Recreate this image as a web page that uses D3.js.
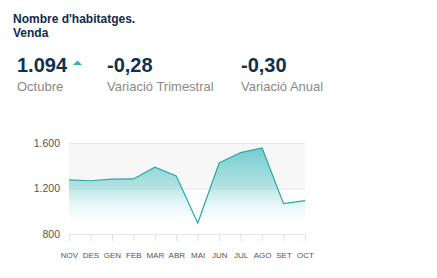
<!DOCTYPE html>
<html>
<head>
<meta charset="utf-8">
<script src="https://d3js.org/d3.v7.min.js"></script>
<style>
  body { margin: 0; background: #fff; }
  svg text { font-family: "Liberation Sans", Arial, sans-serif; }
  .gridlines line { stroke: #e6e6e6; }
  .gridlines .domain { stroke: none; }
</style>
</head>
<body>
<svg id="chart" width="437" height="278"></svg>
<script>
// data
const months = ["NOV", "DES", "GEN", "FEB", "MAR", "ABR", "MAI", "JUN", "JUL", "AGO", "SET", "OCT"];
const values = [1276, 1268, 1283, 1284, 1387, 1310, 895, 1424, 1516, 1556, 1067, 1094];
const yTicks = [800, 1200, 1600];
const kpiValues = ["1.094", "-0,28", "-0,30"];
const kpiLabels = ["Octubre", "Variació Trimestral", "Variació Anual"];
const titleLines = ["Nombre d'habitatges.", "Venda"];

const svg = d3.select("svg#chart");
const margin = {top: 143, right: 132, bottom: 44, left: 69};
const chartWidth = 305 - margin.left;
const chartHeight = 234 - margin.top;

// title
svg.selectAll("text.title")
   .data(titleLines)
   .join("text")
   .attr("class", "title")
   .attr("x", 13)
   .attr("y", (d, i) => 23 + i * 13.5)
   .attr("fill", "#0f2d4b")
   .attr("font-size", "12px")
   .attr("font-weight", "bold")
   .text(d => d);

// KPI blocks
const kpiX = [17, 107, 241];
kpiValues.forEach((v, i) => {
    svg.append("text")
       .attr("x", kpiX[i]).attr("y", 72)
       .attr("fill", "#0e3150")
       .attr("font-size", "20px")
       .attr("font-weight", "bold")
       .text(v);
    svg.append("text")
       .attr("x", kpiX[i]).attr("y", 90.5)
       .attr("fill", "#8a8a8a")
       .attr("font-size", "13px")
       .text(kpiLabels[i]);
});
// small up arrow
svg.append("path")
   .attr("d", "M73,65 L77.5,60.5 L82,65 Z")
   .attr("fill", "#2fb3b3");

// scales
const xScale = d3.scalePoint()
                 .domain(months)
                 .range([0, chartWidth]);
const yScale = d3.scaleLinear()
                 .domain([800, 1600])
                 .range([chartHeight, 0]);

let chartArea = svg.append("g")
                   .attr("transform", `translate(${margin.left}, ${margin.top})`);

// gray plot band between 1200 and 1600
chartArea.append("rect")
         .attr("x", 0)
         .attr("y", yScale(1600))
         .attr("width", chartWidth)
         .attr("height", yScale(1200) - yScale(1600))
         .attr("fill", "#f7f7f7");

// gridlines
let leftGridLines = d3.axisLeft(yScale)
                      .tickValues(yTicks)
                      .tickSize(-chartWidth)
                      .tickFormat('');
chartArea.append("g")
         .attr("class", "gridlines")
         .call(leftGridLines);

// gradient
const defs = svg.append("defs");
const grad = defs.append("linearGradient")
                 .attr("id", "areaGrad")
                 .attr("gradientUnits", "userSpaceOnUse")
                 .attr("x1", 0).attr("x2", 0)
                 .attr("y1", yScale(d3.max(values)))
                 .attr("y2", yScale(830));
grad.append("stop").attr("offset", "0%").attr("stop-color", "#5cc6c6").attr("stop-opacity", 0.85);
grad.append("stop").attr("offset", "45%").attr("stop-color", "#7fd2d2").attr("stop-opacity", 0.6);
grad.append("stop").attr("offset", "100%").attr("stop-color", "#ffffff").attr("stop-opacity", 0);

const area = d3.area()
               .x((d, i) => xScale(months[i]))
               .y0(yScale(800))
               .y1(d => yScale(d));
const line = d3.line()
               .x((d, i) => xScale(months[i]))
               .y(d => yScale(d));

chartArea.append("path")
         .datum(values)
         .attr("d", area)
         .attr("fill", "url(#areaGrad)");
chartArea.append("path")
         .datum(values)
         .attr("d", line)
         .attr("fill", "none")
         .attr("stroke", "#2aa7a7")
         .attr("stroke-width", 1.2);

// y axis labels
let leftAxis = d3.axisLeft(yScale)
                 .tickValues(yTicks)
                 .tickSize(0)
                 .tickPadding(9)
                 .tickFormat(d => d3.format(",")(d).replace(",", "."));
let yAxisG = chartArea.append("g").call(leftAxis);
yAxisG.select(".domain").remove();
yAxisG.selectAll("text")
      .attr("font-family", "Liberation Sans, Arial, sans-serif")
      .attr("font-size", "10.5px")
      .attr("fill", "#555");

// x axis
let bottomAxis = d3.axisBottom(xScale)
                   .tickSize(7)
                   .tickPadding(11);
let xAxisG = chartArea.append("g")
                      .attr("transform", `translate(0, ${chartHeight})`)
                      .call(bottomAxis);
xAxisG.select(".domain").attr("stroke", "#e6e6e6");
xAxisG.selectAll("line").attr("stroke", "#e0e0e0");
xAxisG.selectAll("text")
      .attr("font-family", "Liberation Sans, Arial, sans-serif")
      .attr("font-size", "8px")
      .attr("fill", "#555");
</script>
</body>
</html>
